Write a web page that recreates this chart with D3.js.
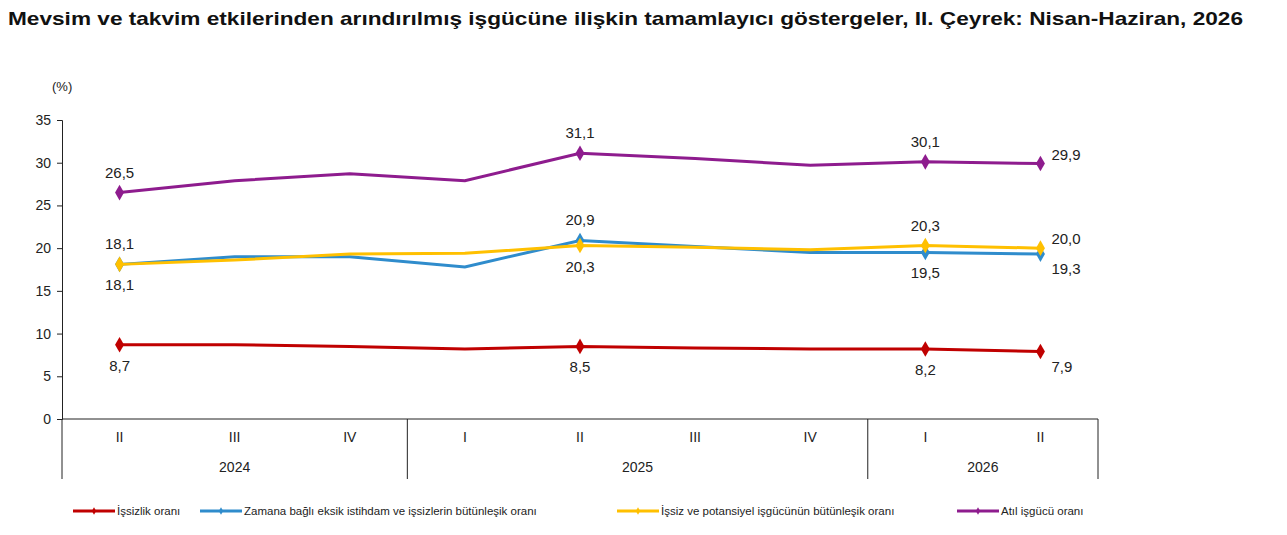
<!DOCTYPE html>
<html><head><meta charset="utf-8">
<script src="https://cdn.jsdelivr.net/npm/d3@7"></script>
<style>body{margin:0;background:#fff;font-family:Arial,"Liberation Sans",sans-serif}</style>
</head><body><svg id="c"></svg>
<script>
const quarters = ["II","III","IV","I","II","III","IV","I","II"];
const years = [{label:"2024",from:0,to:2},{label:"2025",from:3,to:6},{label:"2026",from:7,to:8}];
const yTicks = [0,5,10,15,20,25,30,35];
const issizlik = [8.7,8.7,8.5,8.2,8.5,8.3,8.2,8.2,7.9];
const zamana = [18.1,19.0,19.0,17.8,20.9,20.2,19.5,19.5,19.3];
const potansiyel = [18.1,18.6,19.3,19.4,20.3,20.1,19.8,20.3,20.0];
const atil = [26.5,27.9,28.7,27.9,31.1,30.5,29.7,30.1,29.9];
// labelled points: [index, position] a=above b=below ra/rb=right, raised/lowered
const series = [
  {name:"İşsizlik oranı", values:issizlik, color:"#c00000", labels:[[0,"b"],[4,"b"],[7,"b"],[8,"rb"]]},
  {name:"Zamana bağlı eksik istihdam ve işsizlerin bütünleşik oranı", values:zamana, color:"#2f8ccc", labels:[[0,"b"],[4,"a"],[7,"b"],[8,"rb"]]},
  {name:"İşsiz ve potansiyel işgücünün bütünleşik oranı", values:potansiyel, color:"#ffc000", labels:[[0,"a"],[4,"b"],[7,"a"],[8,"ra"]]},
  {name:"Atıl işgücü oranı", values:atil, color:"#8e1c8e", labels:[[0,"a"],[4,"a"],[7,"a"],[8,"ra"]]}
];
const fmt = v => v.toFixed(1).replace(".", ",");

const W = 1287, H = 535;
const svg = d3.select("#c").attr("width", W).attr("height", H);
const x0 = 62, x1 = 1098, yTop = 120, yBot = 419;
const x = d3.scaleBand().domain(d3.range(quarters.length)).range([x0, x1]);
const xc = i => x(i) + x.bandwidth() / 2;
const y = d3.scaleLinear().domain([0, 35]).range([yBot, yTop]);

svg.append("text").attr("x", 8).attr("y", 25).attr("font-size", 18.5).attr("font-weight", "bold")
  .attr("fill", "#111").attr("textLength", 1235).attr("lengthAdjust", "spacingAndGlyphs")
  .text("Mevsim ve takvim etkilerinden arındırılmış işgücüne ilişkin tamamlayıcı göstergeler, II. Çeyrek: Nisan-Haziran, 2026");
svg.append("text").attr("x", 52).attr("y", 91).attr("font-size", 13).attr("fill", "#222").text("(%)");

const yAxisG = svg.append("g").attr("transform", `translate(${x0},0)`)
  .call(d3.axisLeft(y).tickValues(yTicks).tickSize(5).tickPadding(6));
yAxisG.selectAll("text").attr("font-size", 14).attr("fill", "#222").attr("font-family", "Arial,'Liberation Sans',sans-serif");
yAxisG.selectAll("line,path").attr("stroke", "#222");

const xAxisG = svg.append("g").attr("transform", `translate(0,${yBot})`);
xAxisG.append("line").attr("x1", x0).attr("x2", x1).attr("stroke", "#222");
xAxisG.selectAll(".q").data(quarters).join("text").attr("class", "q")
  .attr("x", (d, i) => xc(i)).attr("y", 23).attr("text-anchor", "middle")
  .attr("font-size", 14).attr("fill", "#222").text(d => d);
const seps = [x0, ...years.slice(1).map(yr => x(yr.from)), x1];
xAxisG.selectAll(".sep").data(seps).join("line").attr("class", "sep")
  .attr("x1", d => d).attr("x2", d => d).attr("y1", 0).attr("y2", 60).attr("stroke", "#222");
xAxisG.selectAll(".yr").data(years).join("text").attr("class", "yr")
  .attr("x", d => (xc(d.from) + xc(d.to)) / 2).attr("y", 53).attr("text-anchor", "middle")
  .attr("font-size", 14).attr("fill", "#222").text(d => d.label);

const line = d3.line().x((d, i) => xc(i)).y(d => y(d));
const diamond = d3.symbol().type(d3.symbolDiamond).size(70);
const dy = {a: -15, b: 26, ra: -4, rb: 20};
series.forEach(s => {
  svg.append("path").datum(s.values).attr("d", line).attr("fill", "none")
    .attr("stroke", s.color).attr("stroke-width", 3);
  svg.selectAll(null).data(s.labels).join("path")
    .attr("transform", d => `translate(${xc(d[0])},${y(s.values[d[0]])})`)
    .attr("d", diamond).attr("fill", s.color);
  svg.selectAll(null).data(s.labels).join("text")
    .attr("x", d => d[1][0] === "r" ? xc(d[0]) + 11 : xc(d[0]))
    .attr("y", d => y(s.values[d[0]]) + dy[d[1]])
    .attr("text-anchor", d => d[1][0] === "r" ? "start" : "middle")
    .attr("font-size", 15).attr("fill", "#222").text(d => fmt(s.values[d[0]]));
});

const legX = [73, 200, 617, 957];
const leg = svg.selectAll(".leg").data(series).join("g").attr("class", "leg")
  .attr("transform", (d, i) => `translate(${legX[i]},511)`);
leg.append("line").attr("x1", 0).attr("x2", 42).attr("stroke", d => d.color).attr("stroke-width", 3);
leg.append("path").attr("transform", "translate(21,0)").attr("d", d3.symbol().type(d3.symbolDiamond).size(16)).attr("fill", d => d.color);
leg.append("text").attr("x", 44).attr("y", 4).attr("font-size", 11.5).attr("fill", "#222").text(d => d.name);
</script></body></html>
